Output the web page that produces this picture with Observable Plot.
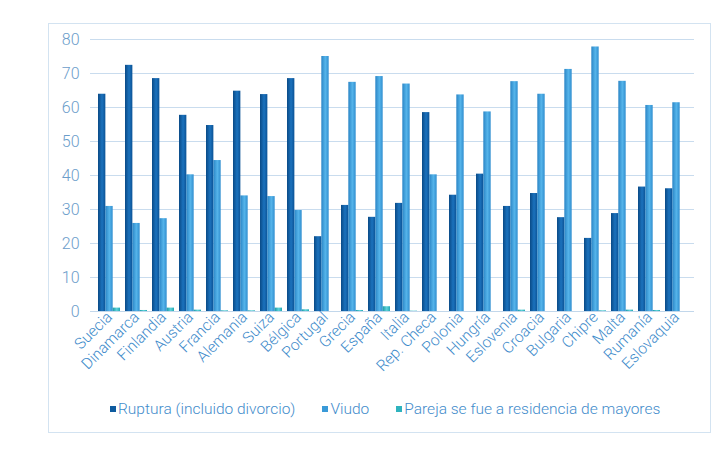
<!DOCTYPE html>
<html>
<head>
<meta charset="utf-8">
<script src="https://cdn.jsdelivr.net/npm/d3@7"></script>
<script src="https://cdn.jsdelivr.net/npm/@observablehq/plot@0.6"></script>
<style>
  body { margin: 0; background: #fff; font-family: Roboto, "Open Sans", sans-serif; }
  #wrap { position: relative; width: 720px; height: 460px; overflow: hidden; }
  #box { position: absolute; left: 48px; top: 23px; width: 661px; height: 408px; border: 1.5px solid #d3e3f1; box-sizing: content-box; }
  #chart { position: absolute; left: 0; top: 0; }
  #legend { position: absolute; left: 110px; top: 400px; display: flex; align-items: center; font-size: 15.5px; font-weight: 300; color: #3f8ccb; white-space: nowrap; }
  .item { display: flex; align-items: center; margin-right: 27px; }
  .sw { width: 6px; height: 6px; margin-right: 2px; }
</style>
</head>
<body>
<div id="wrap">
  <div id="box"></div>
  <div id="chart"></div>
  <div id="legend"></div>
</div>
<script>
const countries = ["Suecia","Dinamarca","Finlandia","Austria","Francia","Alemania","Suiza","Bélgica","Portugal","Grecia","España","Italia","Rep. Checa","Polonia","Hungría","Eslovenia","Croacia","Bulgaria","Chipre","Malta","Rumanía","Eslovaquia"];
const ruptura = [63.9,72.4,68.5,57.7,54.7,64.8,63.8,68.5,22.0,31.2,27.7,31.8,58.5,34.2,40.4,30.9,34.7,27.6,21.5,28.8,36.6,36.1];
const viudo   = [30.9,25.9,27.3,40.2,44.4,34.0,33.8,29.7,75.0,67.4,69.1,66.9,40.2,63.7,58.7,67.6,63.9,71.2,77.8,67.7,60.6,61.4];
const pareja  = [1.0,0.3,1.0,0.4,0.2,0.2,1.0,0.5,0.0,0.3,1.4,0.1,0.0,0.0,0.0,0.4,0.0,0.0,0.2,0.4,0.3,0.0];
const seriesNames = ["Ruptura (incluido divorcio)","Viudo","Pareja se fue a residencia de mayores"];
const yTicks = [0,10,20,30,40,50,60,70,80];

const seriesColors = ["#0e5b9f","#3a9ad8","#2fb3be"];
const gradIds = ["gR","gV","gP"];

const width = 720, height = 390;
const ml = 90, mr = 26, mt = 39, mb = 79;
const pInner = 0.2, pOuter = 0.1;
const step = (width - ml - mr) / (countries.length - pInner + 2 * pOuter);
const bw = step * (1 - pInner);
const third = bw / 3;

const rows = countries.map((c, i) => ({country: c, r: ruptura[i], v: viudo[i], p: pareja[i]}));

const chart = Plot.plot({
  width, height,
  marginLeft: ml, marginRight: mr, marginTop: mt, marginBottom: mb,
  style: {fontFamily: "Roboto, sans-serif", background: "transparent", overflow: "visible"},
  x: {domain: countries, paddingInner: pInner, paddingOuter: pOuter, label: null},
  y: {domain: [0, 80], ticks: yTicks, label: null},
  marks: [
    Plot.gridY(yTicks, {stroke: "#c9dcee", strokeOpacity: 1, strokeWidth: 1}),
    Plot.barY(rows, {x: "country", y: "r", fill: `url(#${gradIds[0]})`, insetLeft: 0, insetRight: 2 * third}),
    Plot.barY(rows, {x: "country", y: "v", fill: `url(#${gradIds[1]})`, insetLeft: third, insetRight: third}),
    Plot.barY(rows, {x: "country", y: "p", fill: `url(#${gradIds[2]})`, insetLeft: 2 * third, insetRight: 0}),
    Plot.ruleY([0], {stroke: "#c2d7eb", strokeWidth: 1.2}),
    Plot.axisY(yTicks, {tickSize: 0, tickPadding: 11, fontSize: 16, fill: "#6b9dca", fontWeight: 300, label: null}),
    Plot.axisX({tickSize: 0, tickPadding: 3, tickRotate: -45, fontSize: 15.5, fill: "#3f8ccb", fontWeight: 300, label: null})
  ]
});

// gradient defs for a slight 3D look
const svgNS = "http://www.w3.org/2000/svg";
const defs = document.createElementNS(svgNS, "defs");
const gradStops = [
  ["#0a4a86", "#1b72bd", "#0c5396"],
  ["#2a85c6", "#55b4ea", "#318fd0"],
  ["#1a9aa6", "#5fd3da", "#22a8b3"]
];
gradIds.forEach((id, k) => {
  const g = document.createElementNS(svgNS, "linearGradient");
  g.setAttribute("id", id);
  g.setAttribute("x1", "0"); g.setAttribute("x2", "1"); g.setAttribute("y1", "0"); g.setAttribute("y2", "0");
  [[0, gradStops[k][0]], [0.55, gradStops[k][1]], [1, gradStops[k][2]]].forEach(([o, c]) => {
    const s = document.createElementNS(svgNS, "stop");
    s.setAttribute("offset", o); s.setAttribute("stop-color", c);
    g.appendChild(s);
  });
  defs.appendChild(g);
});
chart.insertBefore(defs, chart.firstChild);
document.getElementById("chart").appendChild(chart);

const legend = document.getElementById("legend");
seriesNames.forEach((name, k) => {
  const item = document.createElement("div");
  item.className = "item";
  const sw = document.createElement("span");
  sw.className = "sw";
  sw.style.background = seriesColors[k];
  const t = document.createElement("span");
  t.textContent = name;
  item.appendChild(sw); item.appendChild(t);
  legend.appendChild(item);
});
</script>
</body>
</html>
